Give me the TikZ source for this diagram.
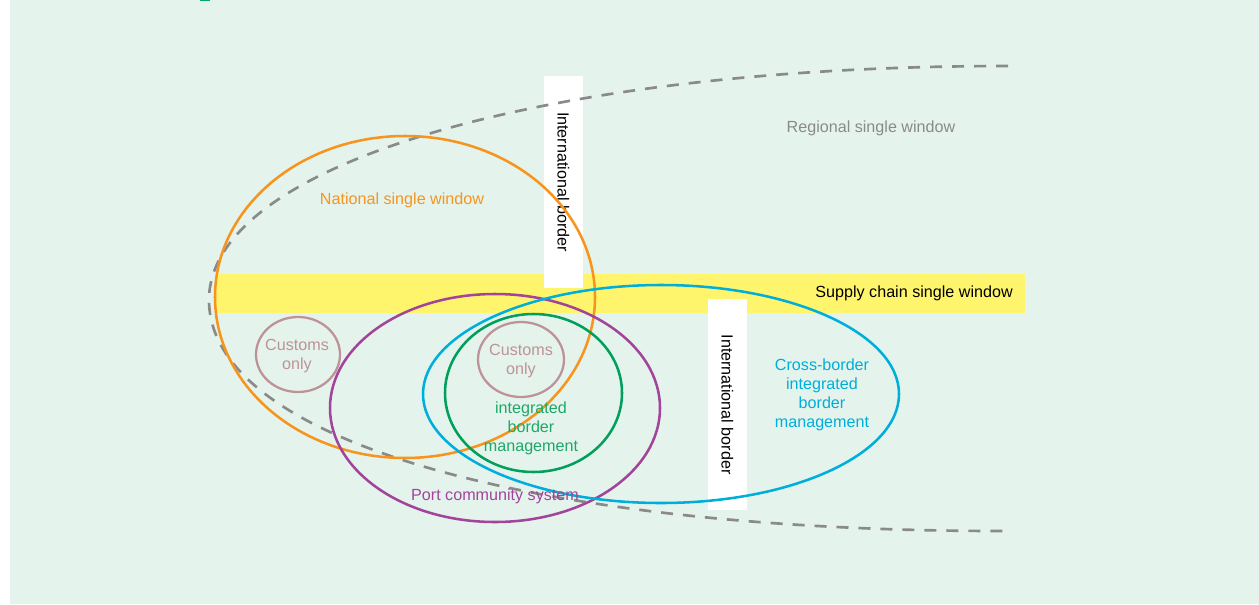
\documentclass[tikz,border=0pt]{standalone}
\usepackage{fontspec}
\setmainfont{Liberation Sans}
\usetikzlibrary{shapes.geometric}

\definecolor{bgmint}{RGB}{228,244,236}
\definecolor{bandyellow}{RGB}{255,245,108}
\definecolor{nsworange}{RGB}{247,148,30}
\definecolor{pcspurple}{RGB}{163,68,155}
\definecolor{cbcyan}{RGB}{0,174,219}
\definecolor{ibmgreen}{RGB}{0,160,92}
\definecolor{ibmtext}{RGB}{30,168,104}
\definecolor{custpink}{RGB}{191,145,152}
\definecolor{dashgray}{RGB}{138,138,138}
\definecolor{titlegreen}{RGB}{0,166,110}

\begin{document}
\begin{tikzpicture}[x=0.75pt,y=-0.75pt,
  ring/.style={ellipse, draw, line width=1.9pt, inner sep=0pt},
  smallring/.style={ellipse, draw=custpink, line width=1.7pt, inner sep=0pt,
    text=custpink, font=\fontsize{12.1}{14.6}\selectfont, align=center},
  lbl/.style={font=\fontsize{12.1}{14.25}\selectfont, align=center, inner sep=0pt},
  borderbox/.style={fill=white, rotate=-90, inner sep=0pt,
    minimum height=29.25pt, font=\fontsize{12.1}{14.25}\selectfont},
  regionline/.style={draw=dashgray, line width=2pt, dash pattern=on 9pt off 7.5pt}
]
% canvas
\useasboundingbox (0,0) rectangle (1259,604);
\fill[white] (0,0) rectangle (1259,604);
\fill[bgmint] (10,0) rectangle (1259,604);
\fill[titlegreen] (200,0) rectangle (210,1.2);

% supply chain band
\fill[bandyellow] (216,274) rectangle (1025,313);

% international borders
\node[borderbox, minimum width=159pt] (ib1) at (563.5,182) {International border};
\node[borderbox, minimum width=158.25pt] (ib2) at (727.5,404.5) {International border};

% regional single window outline
\coordinate (rtop) at (1008,66);
\coordinate (rleft) at (209,300);
\coordinate (rbot) at (1003,531);
\draw[regionline] (rtop) .. controls (545,66) and (209,164) .. (rleft)
  .. controls (209,439) and (527,531) .. (rbot);

% scopes
\node[ring, draw=nsworange, minimum width=285pt, minimum height=241.5pt] (nsw) at (405,297) {};
\node[ring, draw=pcspurple, minimum width=247.5pt, minimum height=171pt] (pcs) at (495,408) {};
\node[ring, draw=cbcyan, minimum width=357pt, minimum height=163.5pt] (cbim) at (661,394) {};
\node[ring, draw=ibmgreen, minimum width=132.75pt, minimum height=118.5pt] (ibm) at (533.5,393) {};

\node[smallring, minimum width=63pt, minimum height=56.25pt] (custL) at (298,354.5) {};
\node[smallring, minimum width=64.5pt, minimum height=56.25pt] (custR) at (521,359.5) {};
\node[lbl, text=custpink] (custLl) at (297,356.5) {Customs\\only};
\node[lbl, text=custpink] (custRl) at (521,361) {Customs\\only};

% labels
\node[lbl, text=dashgray] (rswl) at (871,128) {Regional single window};
\node[lbl, text=nsworange] (nswl) at (402,200) {National single window};
\node[lbl, anchor=east] (scl) at (1013,293) {Supply chain single window};
\node[lbl, text=ibmtext] (ibml) at (531,428) {integrated\\border\\management};
\node[lbl, text=cbcyan] (cbl) at (822,395) {Cross-border\\integrated\\border\\management};
\node[lbl, text=pcspurple] (pcsl) at (495,496) {Port community system};
\end{tikzpicture}
\end{document}
